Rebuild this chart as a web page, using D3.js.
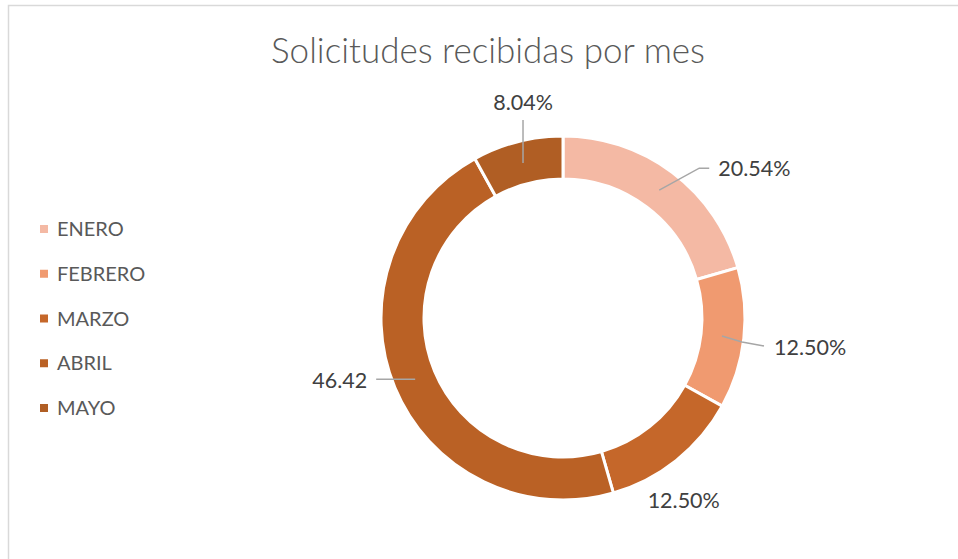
<!DOCTYPE html>
<html>
<head>
<meta charset="utf-8">
<script src="https://cdn.jsdelivr.net/npm/d3@7"></script>
<style>
  body { margin: 0; background: #fff; }
  text { font-family: Lato, "Open Sans", sans-serif; }
</style>
</head>
<body>
<script>
// Data
var months = ["ENERO", "FEBRERO", "MARZO", "ABRIL", "MAYO"];
var values = [20.54, 12.50, 12.50, 46.42, 8.04];
var labels = ["20.54%", "12.50%", "12.50%", "46.42", "8.04%"];
var colors = ["#F4B9A4", "#F09A70", "#C5672A", "#BA6125", "#B05E24"];

var width = 958, height = 559;
var cx = 563, cy = 318;
var outerR = 182, innerR = 139, labelR = 160;

var svg = d3.select("body").append("svg")
  .attr("width", width)
  .attr("height", height);

// chart border
svg.append("rect")
  .attr("x", 8.5).attr("y", 5.5)
  .attr("width", 1000).attr("height", 600)
  .attr("fill", "#fff")
  .attr("stroke", "#d9d9d9")
  .attr("stroke-width", 1.5);

// title
svg.append("text")
  .attr("x", 488)
  .attr("y", 63)
  .attr("text-anchor", "middle")
  .attr("fill", "#595959")
  .style("font-size", "35px")
  .style("font-weight", 300)
  .text("Solicitudes recibidas por mes");

var pie = d3.pie().sort(null).value(function (d) { return d; });
var arcs = pie(values);
var arc = d3.arc().innerRadius(innerR).outerRadius(outerR);

var g = svg.append("g").attr("transform", "translate(" + cx + "," + cy + ")");

g.selectAll("path.slice")
  .data(arcs)
  .enter().append("path")
  .attr("class", "slice")
  .attr("d", arc)
  .attr("fill", function (d, i) { return colors[i]; })
  .attr("stroke", "#fff")
  .attr("stroke-width", 3);

// point at mid ring for each slice
function mid(d, r) {
  var a = (d.startAngle + d.endAngle) / 2;
  return [r * Math.sin(a), -r * Math.cos(a)];
}

// label layout: leader path (relative to the mid-ring point) and text offset
var labelLayout = [
  { lead: [[0, 0], [40, -22], [50, -22]], text: [59, -22], anchor: "start" },
  { lead: [[0, 0], [20, 6], [42, 10]], text: [52, 11], anchor: "start" },
  { lead: null, text: [21, 57], anchor: "middle" },
  { lead: [[0, 0], [-39, 0]], text: [-48, 1], anchor: "end" },
  { lead: [[0, 0], [0, -43]], text: [0, -61], anchor: "middle" }
];

arcs.forEach(function (d, i) {
  var p = mid(d, labelR);
  var lay = labelLayout[i];
  if (lay.lead) {
    g.append("path")
      .attr("d", d3.line()(lay.lead.map(function (q) { return [p[0] + q[0], p[1] + q[1]]; })))
      .attr("fill", "none")
      .attr("stroke", "#a6a6a6")
      .attr("stroke-width", 1.5);
  }
  g.append("text")
    .attr("x", p[0] + lay.text[0])
    .attr("y", p[1] + lay.text[1])
    .attr("dy", "0.36em")
    .attr("text-anchor", lay.anchor)
    .attr("fill", "#404040")
    .style("font-size", "21.5px")
    .text(labels[i]);
});

// legend
var legend = svg.append("g");
var legendY = d3.scalePoint().domain(months).range([229, 408]);
months.forEach(function (m, i) {
  legend.append("rect")
    .attr("x", 40).attr("y", legendY(m) - 4)
    .attr("width", 8).attr("height", 8)
    .attr("fill", colors[i]);
  legend.append("text")
    .attr("x", 57)
    .attr("y", legendY(m))
    .attr("dy", "0.36em")
    .attr("fill", "#595959")
    .style("font-size", "20px")
    .text(m);
});
</script>
</body>
</html>
